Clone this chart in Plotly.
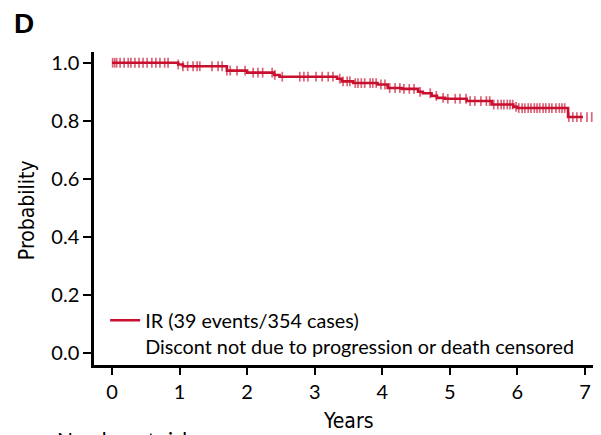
import plotly.graph_objects as go

# Kaplan-Meier steps (years, probability)
step_times = [0.0, 0.98, 1.05, 1.70, 2.00, 2.40, 2.48, 3.33, 3.40, 3.57, 3.93, 4.08, 4.29,
              4.53, 4.60, 4.73, 4.81, 4.93, 5.25, 5.62, 5.94, 6.00, 6.75, 6.97]
step_surv = [1.000, 0.994, 0.988, 0.973, 0.966, 0.958, 0.952, 0.945, 0.936, 0.930, 0.925, 0.913, 0.910,
             0.900, 0.895, 0.886, 0.879, 0.876, 0.868, 0.856, 0.848, 0.844, 0.813, 0.813]

# censoring times (years)
censor_times = [0.01, 0.04, 0.07, 0.12, 0.18, 0.24, 0.28, 0.34, 0.40, 0.46, 0.52, 0.59, 0.65,
                0.71, 0.78, 0.83, 0.98, 1.05, 1.12, 1.20, 1.26, 1.30, 1.48, 1.57, 1.63, 1.70,
                1.75, 1.85, 1.97, 2.09, 2.16, 2.23, 2.37, 2.41, 2.52, 2.78, 2.84, 2.90, 3.02,
                3.11, 3.20, 3.27, 3.37, 3.42, 3.48, 3.52, 3.60, 3.64, 3.69, 3.74, 3.82, 3.86,
                3.91, 3.98, 4.04, 4.11, 4.19, 4.26, 4.32, 4.40, 4.47, 4.56, 4.71, 4.80, 4.90,
                4.97, 5.08, 5.15, 5.24, 5.30, 5.37, 5.46, 5.54, 5.59, 5.65, 5.71, 5.76, 5.80,
                5.85, 5.89, 5.93, 5.98, 6.02, 6.07, 6.11, 6.16, 6.20, 6.25, 6.29, 6.33, 6.38,
                6.42, 6.47, 6.51, 6.57, 6.62, 6.66, 6.70, 6.76, 6.82, 6.88, 6.94, 7.03, 7.10,
                7.16]

x_ticks = [0, 1, 2, 3, 4, 5, 6, 7]
y_ticks = [0.0, 0.2, 0.4, 0.6, 0.8, 1.0]
y_tick_labels = ["0.0", "0.2", "0.4", "0.6", "0.8", "1.0"]

RED = "#c8102e"
FONT = "Lato, Open Sans, sans-serif"
NARROW = "Liberation Sans Narrow, DejaVu Sans Condensed, sans-serif"


def surv_at(t):
    """Step-function lookup of the KM estimate at time t."""
    s = step_surv[0]
    for st, sv in zip(step_times, step_surv):
        if st <= t:
            s = sv
    return s


censor_surv = [surv_at(t) for t in censor_times]

fig = go.Figure()

# censor marks (vertical ticks)
fig.add_trace(go.Scatter(
    x=censor_times, y=censor_surv, mode="markers",
    marker=dict(symbol="line-ns", size=7, line=dict(width=1.7, color="rgba(200,16,46,0.65)")),
    showlegend=False, hoverinfo="skip"
))

# KM curve
fig.add_trace(go.Scatter(
    x=step_times, y=step_surv, mode="lines",
    line=dict(color=RED, width=2.6, shape="hv"),
    name="IR (39 events/354 cases)<br>Discont not due to progression or death censored"
))

# page body has an 8px margin, so the figure is sized to fit the window
fig.update_layout(
    width=593, height=427,
    margin=dict(l=86, r=0, t=44, b=70),
    plot_bgcolor="white", paper_bgcolor="white",
    font=dict(family=FONT, size=17, color="black"),
    showlegend=True,
    legend=dict(x=0.022, y=0.205, xanchor="left", yanchor="top", valign="top",
                bgcolor="rgba(0,0,0,0)", font=dict(size=19.8, family=FONT),
                tracegroupgap=0),
    xaxis=dict(range=[-0.266, 7.237], tickvals=x_ticks, showline=True, linecolor="black",
               linewidth=2.5, ticks="outside", ticklen=7, tickwidth=2, tickcolor="black",
               showgrid=False, zeroline=False, tickfont=dict(size=20)),
    yaxis=dict(range=[-0.041, 1.037], tickvals=y_ticks, ticktext=y_tick_labels, showline=True,
               linecolor="black", linewidth=2.5, ticks="outside", ticklen=8, tickwidth=2,
               tickcolor="black", showgrid=False, zeroline=False, tickfont=dict(size=20)),
    annotations=[
        dict(text="<b>D</b>", x=-0.138, y=1.09, xref="paper", yref="paper", showarrow=False,
             xanchor="center", yanchor="middle",
             font=dict(family="Liberation Sans, Arial, sans-serif", size=28)),
        dict(text="Years", x=0.501, y=-0.179, xref="paper", yref="paper", showarrow=False,
             xanchor="center", yanchor="middle", font=dict(family=NARROW, size=21)),
        dict(text="Probability", x=-0.132, y=0.495, xref="paper", yref="paper", showarrow=False,
             xanchor="center", yanchor="middle", textangle=-90,
             font=dict(family=NARROW, size=21)),
        dict(text="Number at risk", x=-0.077, y=-0.192, xref="paper", yref="paper",
             xanchor="left", yanchor="top", showarrow=False, font=dict(family=FONT, size=21)),
    ],
)

fig.write_html("out.html")
